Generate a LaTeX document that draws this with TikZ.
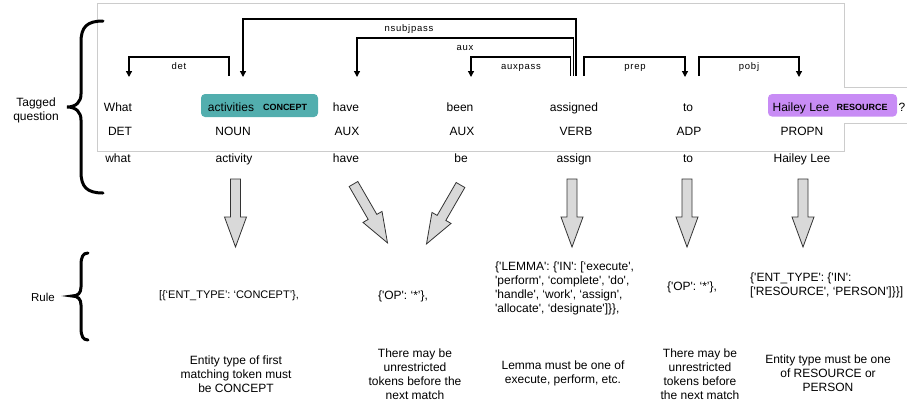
\documentclass[tikz,border=0pt]{standalone}
\usepackage{fontspec}
\newfontfamily\hv{Liberation Sans}
\newfontfamily\hvlab{Liberation Sans}[LetterSpace=8]
\usetikzlibrary{arrows.meta}
\definecolor{tealbox}{HTML}{52AEAE}
\definecolor{purpbox}{HTML}{C88CF5}
\definecolor{frameg}{HTML}{CCCCCC}
\definecolor{arrfill}{HTML}{D9D9D9}
\definecolor{arredge}{HTML}{333333}
\begin{document}
\begin{tikzpicture}[x=1pt,y=-1pt,
  word/.style={font=\hv\fontsize{12}{14}\selectfont, inner sep=0pt, text height=8.6pt, text depth=0pt},
  tagtxt/.style={font=\hv\fontsize{9}{10}\selectfont\bfseries, inner sep=0pt, text height=6.5pt, text depth=0pt},
  entbox/.style={rounded corners=4pt, inner sep=0pt},
  lab/.style={font=\hvlab\fontsize{9.5}{11}\selectfont, inner sep=0pt, text height=7pt, text depth=0pt},
  dep/.style={draw=black, line width=1.3pt, -{Triangle[length=6pt,width=6pt]}},
  ruletxt/.style={font=\hv\fontsize{12}{14}\selectfont, inner sep=0pt, align=left},
  note/.style={font=\hv\fontsize{12}{14}\selectfont, inner sep=0pt, align=center},
  bracestyle/.style={line width=3pt, line cap=round},
  barrow/.pic={\draw[fill=arrfill, draw=arredge, line width=0.8pt, line join=miter]
     (-5,0) -- (-5,38) -- (-11,38) -- (0,68) -- (11,38) -- (5,38) -- (5,0) -- cycle;}
]
\useasboundingbox (0,0) rectangle (907,408);

% frame
\draw[frameg, line width=0.8pt] (907,87) -- (844,87) -- (844,3) -- (97,3) -- (97,151) -- (844,151) -- (844,123) -- (907,123);

% entity boxes
\node[entbox, fill=tealbox, minimum width=117pt, minimum height=23pt] (box2) at (259.5,105.5) {};
\node[entbox, fill=purpbox, minimum width=129pt, minimum height=22.5pt] (box7) at (832.5,105.3) {};

% words
\node[word] (w1) at (118,107) {What};
\node[word] (w2) at (231,107) {activities};
\node[tagtxt] (t2) at (285,107.5) {CONCEPT};
\node[word] (w3) at (346,107) {have};
\node[word] (w4) at (460,107) {been};
\node[word] (w5) at (574,107) {assigned};
\node[word] (w6) at (688,107) {to};
\node[word] (w7) at (801,107) {Hailey Lee};
\node[tagtxt] (t7) at (862,107.5) {RESOURCE};
\node[word] (q) at (902,107) {?};

% POS
\node[word] (p1) at (120,131) {DET};
\node[word] (p2) at (233,131) {NOUN};
\node[word] (p3) at (347,131) {AUX};
\node[word] (p4) at (462,131) {AUX};
\node[word] (p5) at (576,131) {VERB};
\node[word] (p6) at (689,131) {ADP};
\node[word] (p7) at (802,131) {PROPN};

% lemmas
\node[word] (l1) at (118,158) {what};
\node[word] (l2) at (234,158) {activity};
\node[word] (l3) at (346,158) {have};
\node[word] (l4) at (461,158) {be};
\node[word] (l5) at (574,158) {assign};
\node[word] (l6) at (688,158) {to};
\node[word] (l7) at (802,158) {Hailey Lee};

% dependency anchors
\coordinate (detT) at (229,76);   \coordinate (detH) at (129,77);
\coordinate (nsT) at (576,76);    \coordinate (nsH) at (243,77);
\coordinate (auxT) at (573.3,76); \coordinate (auxH) at (357,77);
\coordinate (apT) at (570.6,76);  \coordinate (apH) at (471,77);
\coordinate (prT) at (584,76);    \coordinate (prH) at (685,77);
\coordinate (poT) at (699,76);    \coordinate (poH) at (799,77);

\draw[dep] (detT) -- ++(0,-19) -| (detH);
\draw[dep] (nsT) -- ++(0,-57) -| (nsH);
\draw[dep] (auxT) -- ++(0,-38) -| (auxH);
\draw[dep] (apT) -- ++(0,-19) -| (apH);
\draw[dep] (prT) -- ++(0,-19) -| (prH);
\draw[dep] (poT) -- ++(0,-19) -| (poH);

\node[lab] (ldet) at (179,66) {det};
\node[lab] (lns) at (409,28) {nsubjpass};
\node[lab] (laux) at (465,47) {aux};
\node[lab] (lap) at (521,66) {auxpass};
\node[lab] (lpr) at (635,66) {prep};
\node[lab] (lpo) at (749,66) {pobj};

% braces
\draw[bracestyle] (103,21) .. controls (87,21) and (81,27) .. (81,42) -- (81,94)
   .. controls (81,102) and (76,107) .. (67,107)
   .. controls (76,107) and (81,112) .. (81,120) -- (81,172)
   .. controls (81,187) and (87,193) .. (103,193);
\draw[bracestyle] (88,253) .. controls (83,253) and (81,257) .. (81,265) -- (81,287)
   .. controls (81,293) and (78,296) .. (72,296)
   .. controls (78,296) and (81,299) .. (81,305) -- (81,328)
   .. controls (81,336) and (83,340) .. (88,340);

\node[note] (tq) at (36,110) {Tagged\\question};
\node[note, font=\hv\fontsize{11.5}{13}\selectfont] (rl) at (43,297) {Rule};

% block arrows
\pic at (235.5,179) {barrow};
\pic[rotate=30] at (353.5,184) {barrow};
\pic[rotate=-30] at (460.5,185) {barrow};
\pic at (572,179) {barrow};
\pic at (687,179) {barrow};
\pic at (803,179) {barrow};

% rule texts
\node[ruletxt, font=\hv\fontsize{11}{13}\selectfont] (r1) at (229,296) {{[}\{‘ENT\_TYPE’: ‘CONCEPT’\},};
\node[ruletxt] (r2) at (403,296) {\{'OP': ‘*’\},};
\node[ruletxt, anchor=west] (r3) at (495,288) {\{'LEMMA': \{'IN': {[}‘execute',\\{}'perform', ‘complete', 'do',\\{}'handle', ‘work', ‘assign',\\{}'allocate', ‘designate'{]}\}\},};
\node[ruletxt] (r4) at (692,287) {\{'OP': ‘*’\},};
\node[ruletxt, anchor=west] (r5) at (750,285) {\{'ENT\_TYPE': \{'IN':\\{}{[}'RESOURCE', ‘PERSON'{]}\}\}{]}};

% explanations
\node[note] (n1) at (236,374) {Entity type of first\\matching token must\\be CONCEPT};
\node[note] (n2) at (415,374) {There may be\\unrestricted\\tokens before the\\next match};
\node[note] (n3) at (563,373) {Lemma must be one of\\execute, perform, etc.};
\node[note] (n4) at (700,374) {There may be\\unrestricted\\tokens before\\the next match};
\node[note] (n5) at (828,373) {Entity type must be one\\of RESOURCE or\\PERSON};
\end{tikzpicture}
\end{document}
